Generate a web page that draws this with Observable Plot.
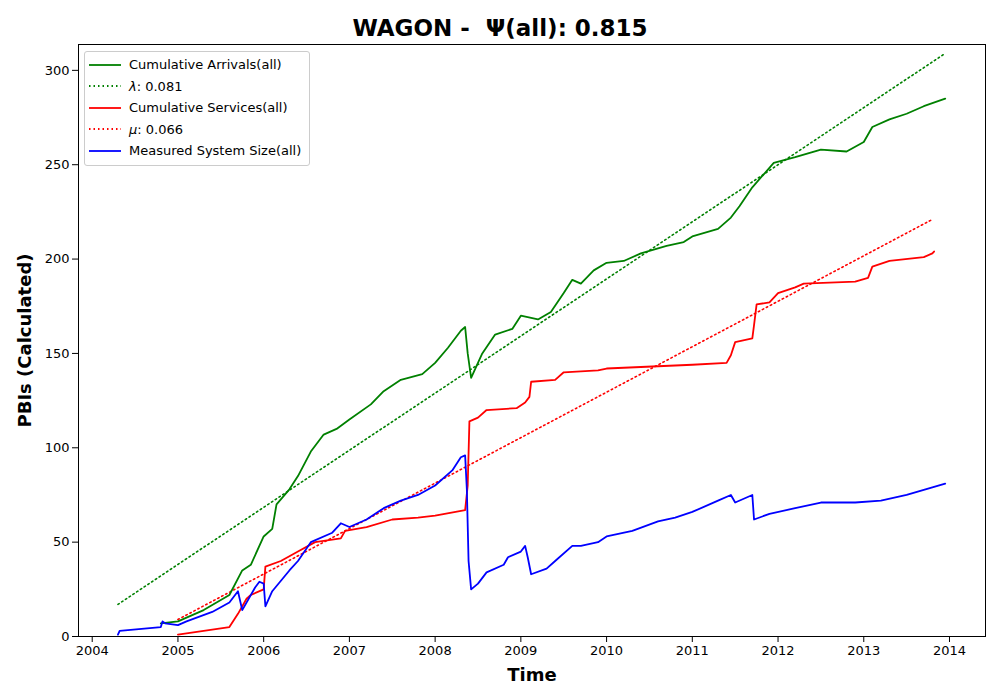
<!DOCTYPE html>
<html>
<head>
<meta charset="utf-8">
<script src="https://cdn.jsdelivr.net/npm/d3@7"></script>
<script src="https://cdn.jsdelivr.net/npm/@observablehq/plot@0.6"></script>
<style>
  body { margin: 0; background: #fff; font-family: "DejaVu Sans", sans-serif; }
  #wrap { position: relative; width: 1000px; }
  #title { height: 40px; text-align: center; font-weight: bold; font-size: 23px; line-height: 56px; }
  #legend { position: absolute; left: 84px; top: 51px; background: rgba(255,255,255,0.9);
    border: 1px solid #ccc; border-radius: 3px; padding: 2px 8px 3px 4px; font-size: 13px; }
  #legend div { display: flex; align-items: center; height: 21.5px; }
  #legend svg { margin-right: 8px; }
</style>
</head>
<body>
<div id="wrap">
  <div id="title">WAGON -&nbsp; Ψ(all): 0.815</div>
  <div id="chart"></div>
  <div id="legend"></div>
</div>
<script>
const arrivalsT = [2004.8,2005.0,2005.3,2005.6,2005.75,2005.85,2006.0,2006.1,2006.15,2006.3,2006.4,2006.55,2006.7,2006.85,2007.0,2007.25,2007.4,2007.6,2007.85,2008.0,2008.15,2008.3,2008.35,2008.38,2008.42,2008.55,2008.7,2008.9,2009.0,2009.2,2009.35,2009.5,2009.6,2009.7,2009.85,2010.0,2010.2,2010.4,2010.7,2010.9,2011.0,2011.3,2011.45,2011.55,2011.7,2011.95,2012.2,2012.5,2012.8,2013.0,2013.1,2013.3,2013.5,2013.7,2013.95];
const arrivalsV = [7,8,14,22,35,38,53,57,70,78,85,98,107,110,115,123,130,136,139,145,153,162,164,150,137,150,160,163,170,168,172,182,189,187,194,198,199,203,207,209,212,216,222,228,238,251,254,258,257,262,270,274,277,281,285];

const servicesT = [2005.0,2005.6,2005.7,2005.8,2005.85,2006.0,2006.02,2006.2,2006.4,2006.6,2006.9,2006.95,2007.2,2007.5,2007.8,2008.0,2008.35,2008.38,2008.4,2008.5,2008.6,2008.95,2009.05,2009.1,2009.12,2009.4,2009.5,2009.9,2010.0,2011.0,2011.4,2011.45,2011.5,2011.7,2011.72,2011.75,2011.9,2012.0,2012.2,2012.3,2012.9,2013.05,2013.1,2013.3,2013.7,2013.8,2013.82];
const servicesV = [1,5,12,20,22,25,37,40,45,50,52,56,58,62,63,64,67,80,114,116,120,121,124,127,135,136,140,141,142,144,145,149,156,158,165,176,177,182,185,187,188,190,196,199,201,203,204];

const sizeT = [2004.3,2004.32,2004.8,2004.82,2004.85,2005.0,2005.1,2005.4,2005.6,2005.7,2005.75,2005.9,2005.95,2006.0,2006.02,2006.1,2006.3,2006.4,2006.55,2006.8,2006.9,2007.0,2007.2,2007.4,2007.6,2007.8,2008.0,2008.2,2008.3,2008.35,2008.37,2008.39,2008.42,2008.5,2008.6,2008.8,2008.85,2009.0,2009.05,2009.08,2009.12,2009.3,2009.4,2009.6,2009.7,2009.9,2010.0,2010.3,2010.6,2010.8,2011.0,2011.3,2011.45,2011.5,2011.7,2011.72,2011.9,2012.2,2012.5,2012.9,2013.2,2013.5,2013.8,2013.95];
const sizeV = [1,3,5,8,7,6,8,13,18,24,14,26,29,28,16,24,35,40,50,55,60,58,62,68,72,75,80,88,95,96,78,40,25,28,34,38,42,45,48,42,33,36,40,48,48,50,53,56,61,63,66,72,75,71,75,62,65,68,71,71,72,75,79,81];

const lambdaT = [2004.3, 2013.95], lambdaV = [17, 309];
const muT = [2005.0, 2013.8], muV = [9, 221];

const zip = (t, v) => t.map((x, i) => ({ t: x, v: v[i] }));

const plot = Plot.plot({
  width: 1000,
  height: 660,
  marginLeft: 78,
  marginRight: 15,
  marginTop: 4,
  marginBottom: 64,
  style: { fontSize: "13px", fontFamily: "DejaVu Sans, sans-serif", background: "white" },
  x: {
    domain: [2003.84, 2014.42],
    ticks: d3.range(2004, 2015),
    tickFormat: "d",
    label: "Time",
    labelAnchor: "center",
    labelArrow: "none",
    labelOffset: 44,
  },
  y: {
    domain: [0, 313.7],
    ticks: d3.range(0, 301, 50),
    label: "PBIs (Calculated)",
    labelAnchor: "center",
    labelArrow: "none",
    labelOffset: 60,
  },
  marks: [
    Plot.frame({ stroke: "black" }),
    Plot.line(zip(lambdaT, lambdaV), { x: "t", y: "v", stroke: "green", strokeWidth: 1.6, strokeDasharray: "1.5,3" }),
    Plot.line(zip(muT, muV), { x: "t", y: "v", stroke: "red", strokeWidth: 1.6, strokeDasharray: "1.5,3" }),
    Plot.line(zip(arrivalsT, arrivalsV), { x: "t", y: "v", stroke: "green", strokeWidth: 1.8 }),
    Plot.line(zip(servicesT, servicesV), { x: "t", y: "v", stroke: "red", strokeWidth: 1.8 }),
    Plot.line(zip(sizeT, sizeV), { x: "t", y: "v", stroke: "blue", strokeWidth: 1.8 }),
  ],
});
document.getElementById("chart").appendChild(plot);

// bold axis titles like matplotlib (not the tick labels)
plot.querySelectorAll("[aria-label='x-axis label'], [aria-label='y-axis label']").forEach((n) => {
  n.setAttribute("font-size", "18");
  n.setAttribute("font-weight", "bold");
});

const legendItems = [
  ["Cumulative Arrivals(all)", "green", null],
  ["<i>λ</i>: 0.081", "green", "1.5,3"],
  ["Cumulative Services(all)", "red", null],
  ["<i>μ</i>: 0.066", "red", "1.5,3"],
  ["Measured System Size(all)", "blue", null],
];
document.getElementById("legend").innerHTML = legendItems
  .map(([t, c, d]) => `<div><svg width="32" height="10"><line x1="0" x2="32" y1="5" y2="5" stroke="${c}" stroke-width="1.8" ${d ? `stroke-dasharray="${d}"` : ""}/></svg>${t}</div>`)
  .join("");
</script>
</body>
</html>
